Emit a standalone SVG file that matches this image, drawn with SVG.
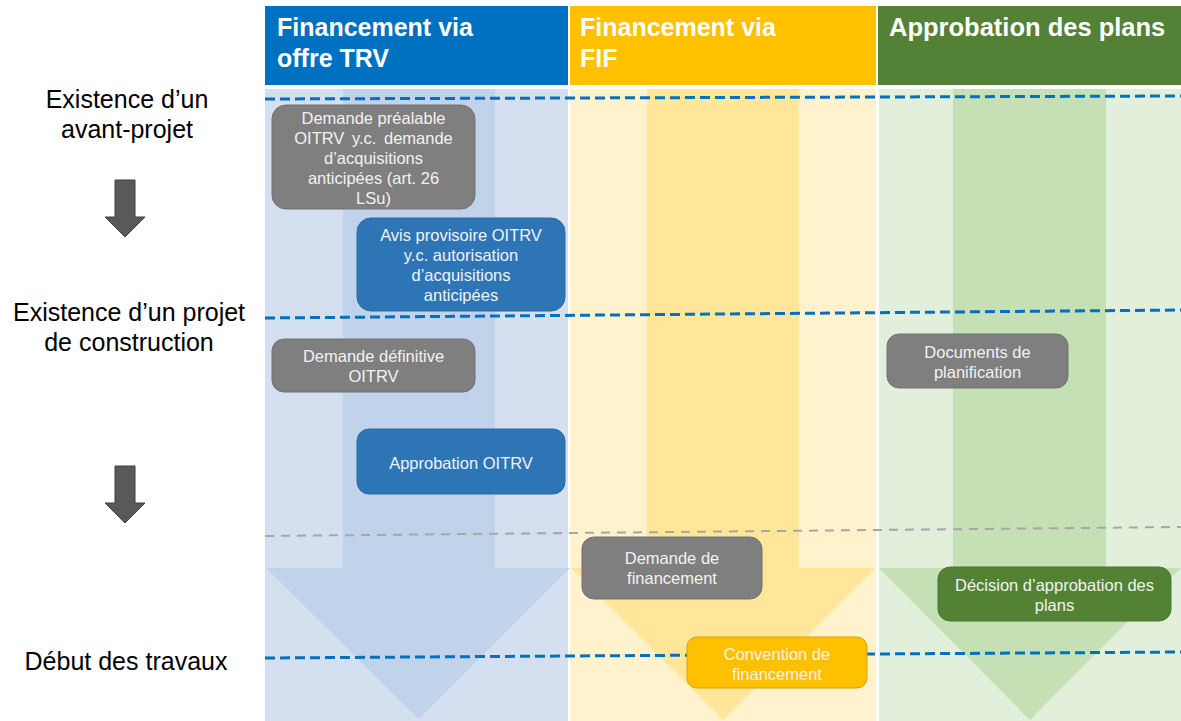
<svg xmlns="http://www.w3.org/2000/svg" width="1181" height="721" viewBox="0 0 1181 721">
  <style>
    .hdr { font-family: "Liberation Sans", Arial, sans-serif; font-weight: bold; font-size: 25px; fill: #ffffff; }
    .lbl { font-family: "Liberation Sans", Arial, sans-serif; font-size: 25px; fill: #000000; text-anchor: middle; }
    .bt { font-family: "Liberation Sans", Arial, sans-serif; font-size: 16.5px; fill: #f2f2f2; text-anchor: middle; }
    .gray { fill: #7f7f7f; stroke: #727272; stroke-width: 1; }
    .blue { fill: #2e75b6; stroke: #2a6aa6; stroke-width: 1; }
    .yel { fill: #ffc000; stroke: #d9a300; stroke-width: 1; }
    .grn { fill: #548235; stroke: #4b7530; stroke-width: 1; }
    .dash-blue { stroke: #0070c0; stroke-width: 3; stroke-dasharray: 10 5; fill: none; }
    .dash-gray { stroke: #a6a6a6; stroke-width: 2; stroke-dasharray: 9 7; fill: none; }
    .step { fill: #595959; stroke: #404040; stroke-width: 1; }
  </style>

  <rect width="1181" height="721" fill="#ffffff"/>

  <!-- column headers -->
  <g id="headers">
    <rect x="265" y="6" width="303" height="79" fill="#0070c0"/>
    <rect x="570" y="6" width="306" height="79" fill="#ffc000"/>
    <rect x="878" y="6" width="303" height="79" fill="#538135"/>
    <text class="hdr" x="277" y="36">Financement via</text>
    <text class="hdr" x="277" y="67">offre TRV</text>
    <text class="hdr" x="580" y="36">Financement via</text>
    <text class="hdr" x="580" y="67">FIF</text>
    <text class="hdr" x="889" y="36" style="font-size:25.5px">Approbation des plans</text>
  </g>

  <!-- column backgrounds -->
  <g id="columns">
    <rect x="265" y="89" width="303" height="632" fill="#d4dfef"/>
    <rect x="570" y="89" width="306" height="632" fill="#fff2cc"/>
    <rect x="879" y="89" width="302" height="632" fill="#e2efda"/>
  </g>

  <!-- large flow arrows -->
  <g id="flow-arrows">
    <polygon points="343,89 495,89 495,568 570,568 419,719 266,568 343,568" fill="#c1d3ea"/>
    <polygon points="647,89 799,89 799,568 875,568 723,720 571,568 647,568" fill="#ffe699"/>
    <polygon points="953,89 1106,89 1106,568 1181,568 1030,720 879,568 953,568" fill="#c5e0b4"/>
  </g>

  <!-- milestone lines -->
  <g id="connectors">
    <line class="dash-blue" x1="265" y1="99" x2="1181" y2="96"/>
    <line class="dash-blue" x1="265" y1="318" x2="1181" y2="310"/>
    <line class="dash-gray" x1="265" y1="536" x2="1181" y2="527"/>
    <line class="dash-blue" x1="265" y1="658" x2="1181" y2="652"/>
  </g>

  <!-- milestone labels -->
  <g id="milestones">
    <text class="lbl" x="127" y="108">Existence d’un</text>
    <text class="lbl" x="127" y="138">avant-projet</text>
    <text class="lbl" x="129" y="321">Existence d’un projet</text>
    <text class="lbl" x="129" y="351">de construction</text>
    <text class="lbl" x="126" y="670">Début des travaux</text>
    <polygon class="step" points="115,180 135,180 135,217 145,217 125,237 105,217 115,217"/>
    <polygon class="step" points="115,466 135,466 135,503 145,503 125,523 105,503 115,503"/>
  </g>

  <g id="demande-prealable">
    <rect class="gray" x="272" y="105" width="203" height="104" rx="14"/>
    <text class="bt" x="373.5" y="124">Demande préalable</text>
    <text class="bt" x="373.5" y="144" style="word-spacing:3px">OITRV y.c. demande</text>
    <text class="bt" x="373.5" y="164">d’acquisitions</text>
    <text class="bt" x="373.5" y="184">anticipées (art. 26</text>
    <text class="bt" x="373.5" y="204">LSu)</text>
  </g>

  <g id="avis-provisoire">
    <rect class="blue" x="357" y="218" width="208" height="93" rx="14"/>
    <text class="bt" x="461" y="241">Avis provisoire OITRV</text>
    <text class="bt" x="461" y="261">y.c. autorisation</text>
    <text class="bt" x="461" y="281">d’acquisitions</text>
    <text class="bt" x="461" y="301">anticipées</text>
  </g>

  <g id="demande-definitive">
    <rect class="gray" x="272" y="339" width="203" height="53" rx="12"/>
    <text class="bt" x="373.5" y="362">Demande définitive</text>
    <text class="bt" x="373.5" y="382">OITRV</text>
  </g>

  <g id="approbation-oitrv">
    <rect class="blue" x="357" y="429" width="208" height="65" rx="12"/>
    <text class="bt" x="461" y="469">Approbation OITRV</text>
  </g>

  <g id="demande-financement">
    <rect class="gray" x="582" y="537" width="180" height="62" rx="12"/>
    <text class="bt" x="672" y="564">Demande de</text>
    <text class="bt" x="672" y="584">financement</text>
  </g>

  <g id="convention-financement">
    <rect class="yel" x="687" y="637" width="180" height="51" rx="10"/>
    <text class="bt" x="777" y="660">Convention de</text>
    <text class="bt" x="777" y="680">financement</text>
  </g>

  <g id="documents-planification">
    <rect class="gray" x="887" y="334" width="181" height="54" rx="12"/>
    <text class="bt" x="977.5" y="358">Documents de</text>
    <text class="bt" x="977.5" y="378">planification</text>
  </g>

  <g id="decision-approbation">
    <rect class="grn" x="938" y="567" width="233" height="54" rx="12"/>
    <text class="bt" x="1054.5" y="591">Décision d’approbation des</text>
    <text class="bt" x="1054.5" y="611">plans</text>
  </g>
</svg>
